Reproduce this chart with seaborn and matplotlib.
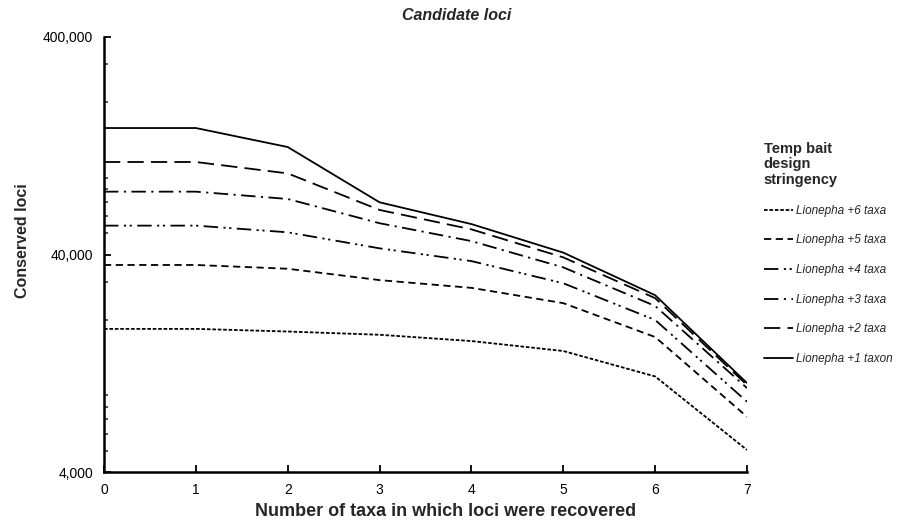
import numpy as np
import pandas as pd
import matplotlib
matplotlib.use("Agg")
import matplotlib.pyplot as plt
import seaborn as sns
from matplotlib.ticker import FuncFormatter, LogLocator, NullFormatter

# data (conserved loci vs number of taxa)
taxa = [0, 1, 2, 3, 4, 5, 6, 7]
plus6 = [18200, 18200, 17700, 17100, 16000, 14400, 11000, 5050]
plus5 = [35800, 35800, 34400, 30500, 28100, 23900, 16700, 7180]
plus4 = [54300, 54300, 50600, 42700, 37300, 29500, 20000, 8420]
plus3 = [77800, 77800, 72000, 55700, 46100, 34900, 23200, 9730]
plus2 = [106500, 106500, 94400, 64100, 52200, 38800, 25200, 10050]
plus1 = [152600, 152600, 124800, 69500, 55200, 40800, 26000, 10260]

labels = ["Lionepha +6 taxa", "Lionepha +5 taxa", "Lionepha +4 taxa",
          "Lionepha +3 taxa", "Lionepha +2 taxa", "Lionepha +1 taxon"]
series = [plus6, plus5, plus4, plus3, plus2, plus1]

rows = []
for lab, vals in zip(labels, series):
    for t, v in zip(taxa, vals):
        rows.append({"taxa": t, "loci": v, "stringency": lab})
df = pd.DataFrame(rows)

dash_styles = {
    "Lionepha +6 taxa": (2, 1),
    "Lionepha +5 taxa": (4, 2.5),
    "Lionepha +4 taxa": (8, 3, 1.2, 2, 1.2, 3),
    "Lionepha +3 taxa": (8, 3, 1.2, 3),
    "Lionepha +2 taxa": (9, 4),
    "Lionepha +1 taxon": "",
}

sns.set_style("ticks")
plt.rcParams["font.family"] = ["Liberation Sans", "DejaVu Sans"]

fig = plt.figure(figsize=(9.14, 5.23), dpi=100)
ax = fig.add_axes([104 / 914, 1 - 472 / 523, (747 - 104) / 914, (472 - 37) / 523])

sns.lineplot(data=df, x="taxa", y="loci", style="stringency", style_order=labels,
             dashes=dash_styles, color="black", linewidth=1.3, ax=ax)

ax.set_yscale("log")
ax.set_ylim(4000, 400000)
ax.set_xlim(0, 7)
ax.set_xticks(taxa)
ax.set_yticks([4000, 40000, 400000])
ax.yaxis.set_major_formatter(FuncFormatter(lambda v, p: f"{v:,.0f}"))
ax.yaxis.set_minor_locator(LogLocator(base=10, subs=np.arange(2, 10)))
ax.yaxis.set_minor_formatter(NullFormatter())
ax.tick_params(axis="both", which="major", direction="in", length=5, width=1.3,
               labelsize=10, colors="black")
ax.tick_params(axis="y", which="major", pad=8)
ax.tick_params(axis="x", which="major", pad=8)
ax.tick_params(axis="y", which="minor", direction="in", length=3, width=1.1)
for s in ["top", "right"]:
    ax.spines[s].set_visible(False)
for s in ["left", "bottom"]:
    ax.spines[s].set_linewidth(1.8)
    ax.spines[s].set_color("black")

ax.set_xlabel("Number of taxa in which loci were recovered", fontsize=13,
              fontweight="bold")
ax.xaxis.set_label_coords((446 - 104) / (747 - 104), -(512 - 472) / (472 - 37))
ax.xaxis.label.set_va("center")
ax.set_ylabel("Conserved loci", fontsize=11.5, fontweight="bold")
ax.yaxis.set_label_coords(-(104 - 23) / (747 - 104), (472 - 241) / (472 - 37))
ax.yaxis.label.set_va("center")

fig.text(457 / 914, 1 - 15 / 523, "Candidate loci", ha="center", va="center",
         fontsize=11.5, fontweight="bold", fontstyle="italic")

handles, labs = ax.get_legend_handles_labels()
leg = ax.legend(handles, labs, loc="upper left", bbox_to_anchor=(753 / 914, 1 - 131 / 523),
                bbox_transform=fig.transFigure, frameon=False,
                title="Temp bait\ndesign\nstringency", alignment="left",
                prop={"size": 8.5, "style": "italic"}, handlelength=2.5,
                handletextpad=0.2, labelspacing=1.5)
leg.get_title().set_fontweight("bold")
leg.get_title().set_fontsize(10.5)
leg.get_title().set_linespacing(1.15)
for line in leg.get_lines():
    line.set_linewidth(1.3)

fig.savefig("out.png", dpi=100)
